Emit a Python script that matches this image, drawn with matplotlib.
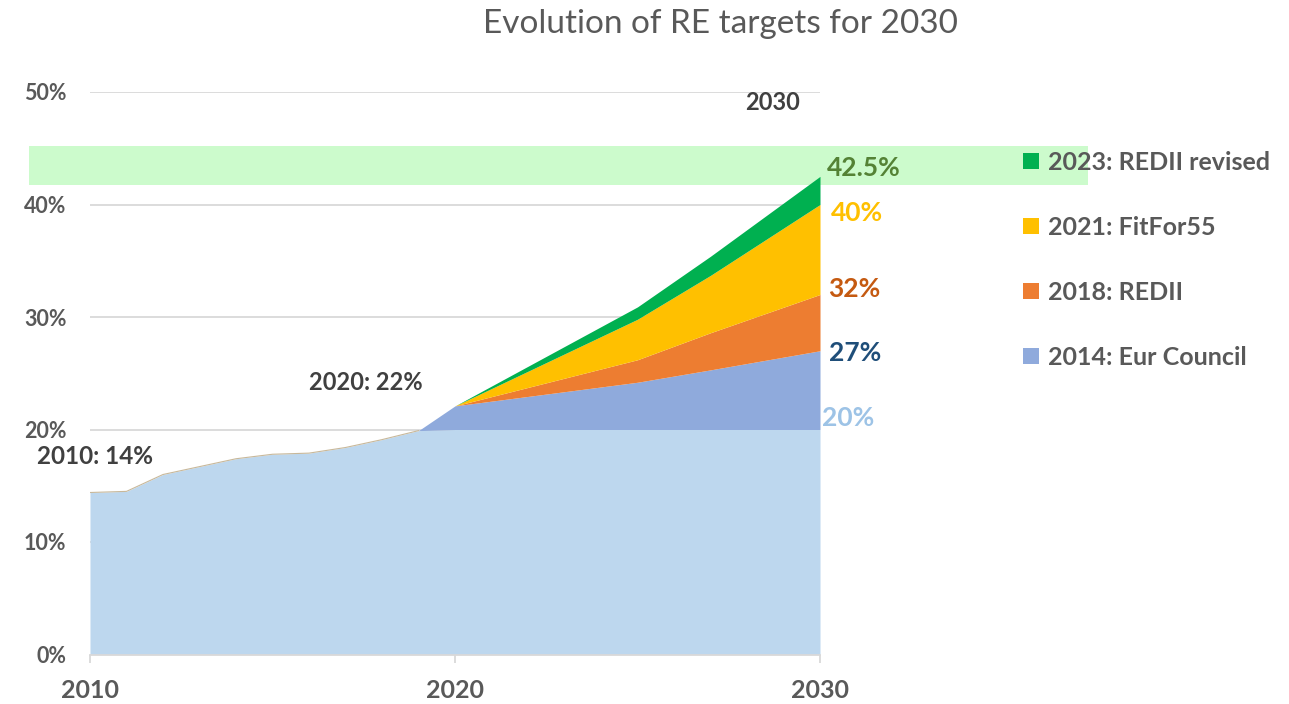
import matplotlib.pyplot as plt
from matplotlib.patches import Patch, Rectangle

plt.rcParams['font.family'] = ['Lato', 'DejaVu Sans']

# historical share of renewables (%)
hist_years = [2010, 2011, 2012, 2013, 2014, 2015, 2016, 2017, 2018, 2019, 2020]
hist_share = [14.4, 14.5, 16.0, 16.7, 17.4, 17.8, 17.9, 18.4, 19.1, 19.9, 22.1]

# old 2020 target level kept as base after 2019
base_years = [2019, 2020, 2025, 2027, 2030]
base_level = [19.9, 20.0, 20.0, 20.0, 20.0]

# target trajectories (cumulative level, %)
traj_years = [2019, 2020, 2025, 2027, 2030]
eur_council = [19.9, 22.1, 24.2, 25.3, 27.0]
redii = [19.9, 22.1, 26.2, 28.6, 32.0]
fitfor55 = [19.9, 22.1, 29.8, 33.7, 40.0]
redii_revised = [19.9, 22.1, 30.9, 35.4, 42.5]

labels = ['2023: REDII revised', '2021: FitFor55', '2018: REDII', '2014: Eur Council']
colors = ['#00B050', '#FFC000', '#ED7D31', '#8FAADC']
base_color = '#BDD7EE'

end_labels = ['42.5%', '40%', '32%', '27%', '20%']
end_colors = ['#548235', '#FFC000', '#C55A11', '#1F4E79', '#9DC3E6']

W, H = 1289, 704
fig = plt.figure(figsize=(W / 100, H / 100), dpi=100)
ax = fig.add_axes([90 / W, 1 - 654.5 / H, 730 / W, 562.5 / H])
ax.set_facecolor('none')


def fx(x):
    return x / W


def fy(y):
    return 1 - y / H


# light blue: history up to 2019, then flat base
ax.fill_between(hist_years[:-1], 0, hist_share[:-1], color=base_color, lw=0, zorder=2)
ax.fill_between(base_years, 0, base_level, color=base_color, lw=0, zorder=2)
ax.plot(hist_years[:-1], hist_share[:-1], color='#C8B89A', lw=0.8, zorder=3)

levels = [base_level, eur_council, redii, fitfor55, redii_revised]
layer_colors = colors[::-1]
for lo, hi, c in zip(levels[:-1], levels[1:], layer_colors):
    ax.fill_between(traj_years, lo, hi, color=c, lw=0, zorder=2)

# highlight band around the revised target
ax.add_patch(Rectangle((2008.33, 41.75), 29.0, 3.45, facecolor='#CCFBCC',
                       edgecolor='none', clip_on=False, zorder=1))

ax.set_xlim(2010, 2030)
ax.set_ylim(0, 50)
ax.set_yticks(range(0, 51, 10))
ax.set_yticklabels([f'{v}%' for v in range(0, 51, 10)])
ax.set_xticks([2010, 2020, 2030])
ax.set_xticklabels(['2010', '2020', '2030'])
ax.grid(axis='y', color='#D9D9D9', lw=1.3, zorder=0)
ax.set_axisbelow(True)
for s in ['left', 'right', 'top']:
    ax.spines[s].set_visible(False)
ax.spines['bottom'].set_color('#D9D9D9')
ax.spines['bottom'].set_linewidth(1.3)
ax.spines['bottom'].set_zorder(4)
ax.tick_params(axis='y', length=0, pad=17, labelsize=15.5, labelcolor='#595959')
ax.tick_params(axis='x', length=6, width=1.3, color='#D9D9D9', pad=12,
               labelsize=18, labelcolor='#595959')
for t in ax.get_xticklabels() + ax.get_yticklabels():
    t.set_fontweight('bold')

# end-of-line labels
end_pos = [(827, 168), (831, 213), (828, 289), (829, 353), (822, 418)]
for txt, c, (x, y) in zip(end_labels, end_colors, end_pos):
    fig.text(fx(x), fy(y), txt, color=c, fontsize=19, fontweight='bold',
             ha='left', va='center')

fig.text(fx(773), fy(103), '2030', color='#404040', fontsize=17,
         fontweight='bold', ha='center', va='center')
fig.text(fx(366), fy(383), '2020: 22%', color='#404040', fontsize=17,
         fontweight='bold', ha='center', va='center')
fig.text(fx(95), fy(457), '2010: 14%', color='#404040', fontsize=17.5,
         fontweight='bold', ha='center', va='center')

fig.text(fx(720), fy(24), 'Evolution of RE targets for 2030', color='#595959',
         fontsize=24, ha='center', va='center')

handles = [Patch(facecolor=c, edgecolor='none') for c in colors]
leg = ax.legend(handles, labels, loc='upper left',
                bbox_to_anchor=(fx(1023), fy(151)), bbox_transform=fig.transFigure,
                frameon=False, fontsize=18, labelspacing=1.68, handlelength=0.62,
                handleheight=0.62, handletextpad=0.4, borderpad=0, borderaxespad=0)
for t in leg.get_texts():
    t.set_color('#595959')
    t.set_fontweight('bold')

fig.savefig('out.png', dpi=100)
